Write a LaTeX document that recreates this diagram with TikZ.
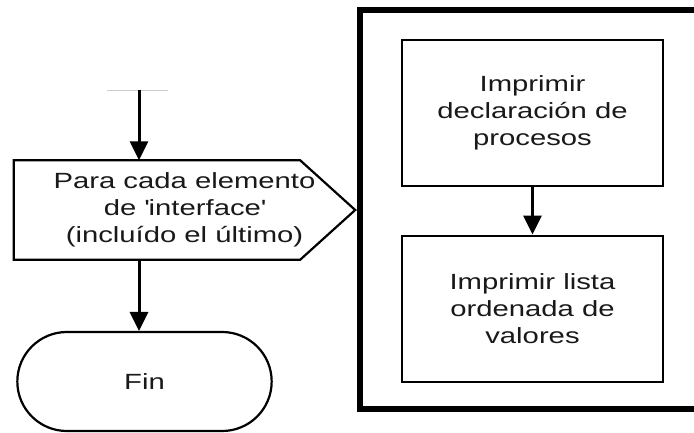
\documentclass[tikz,border=0pt]{standalone}
\usepackage{fontspec}
\setmainfont[FakeStretch=1.33]{Liberation Sans}
\usetikzlibrary{shapes.misc,arrows.meta}

\tikzset{
  flowtext/.style={font=\fontsize{22}{27}\selectfont, align=center, text=black!90},
  procbox/.style={draw, line width=2pt, minimum width=261pt, minimum height=146pt, flowtext},
  loopbox/.style={minimum width=341pt, minimum height=99pt, flowtext, inner sep=0pt},
  endbox/.style={draw, line width=2.2pt, rounded rectangle, minimum width=261pt,
                 minimum height=99pt, flowtext},
  outline/.style={line width=2.2pt, line join=miter},
  flow/.style={line width=3pt, -{Triangle[width=18pt,length=19pt]}},
}

\begin{document}
\begin{tikzpicture}[x=1pt, y=-1pt]
  \useasboundingbox (0,0) rectangle (694,432);

  % loop body frame (runs off the right side)
  \begin{scope}
    \clip (0,0) rectangle (694,432);
    \draw[line width=6pt] (359.5,10) rectangle (740,409);
  \end{scope}

  % incoming line
  \coordinate (start) at (139,90);
  \draw[black!20, line width=1pt] (107,90) -- (168,90);

  % for-each block: pentagon pointing right
  \node[loopbox] (loop) at (184.5,210)
    {Para cada elemento\\de \textquotesingle interface\textquotesingle\\(incluído el último)};
  \draw[outline] (loop.north west) -- ([xshift=-55pt]loop.north east) -- (loop.east)
    -- ([xshift=-55pt]loop.south east) -- (loop.south west) -- cycle;

  % end terminal
  \node[endbox] (fin) at (144.5,381.5) {Fin};

  % loop body steps
  \node[procbox] (decl) at (532.5,113) {Imprimir\\declaración de\\procesos};
  \node[procbox] (list) at (532.5,308.5) {Imprimir lista\\ordenada de\\valores};

  % connectors
  \draw[flow] (start) -- (start |- loop.north);
  \draw[flow] (loop.south -| start) -- (fin.north -| start);
  \draw[flow] (decl) -- (list);
\end{tikzpicture}
\end{document}
